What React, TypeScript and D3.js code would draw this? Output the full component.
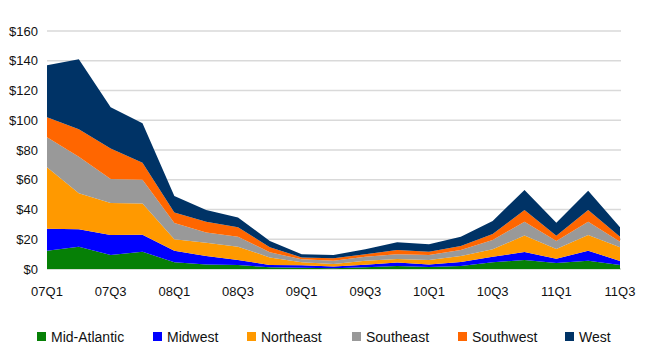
import React from "react";
import * as d3 from "d3";

const quarters = [
  "07Q1", "07Q2", "07Q3", "07Q4", "08Q1", "08Q2", "08Q3", "08Q4", "09Q1", "09Q2",
  "09Q3", "09Q4", "10Q1", "10Q2", "10Q3", "10Q4", "11Q1", "11Q2", "11Q3",
];
const tickLabels = ["07Q1", "07Q3", "08Q1", "08Q3", "09Q1", "09Q3", "10Q1", "10Q3", "11Q1", "11Q3"];
const yTicks = [0, 20, 40, 60, 80, 100, 120, 140, 160];

const seriesNames = ["Mid-Atlantic", "Midwest", "Northeast", "Southeast", "Southwest", "West"];
const seriesColors = ["#068006", "#0000ff", "#ff9900", "#999999", "#ff6600", "#003366"];

const midAtlantic = [12.3, 15, 9.4, 11.6, 4.5, 3.1, 2.7, 1.1, 0.9, 0.5, 1.1, 2, 1.3, 2, 4.5, 6, 4, 5.6, 2.7];
const midwest = [14.7, 11.7, 13.5, 11.4, 7.8, 5.6, 3.3, 1.6, 1.6, 1.1, 1.8, 2.3, 1.8, 2.7, 3.8, 5.4, 2.9, 6.7, 2.7];
const northeast = [41.4, 24.3, 21.5, 21, 7.7, 9, 9, 5.1, 2, 1.8, 2.7, 2.4, 2.9, 4, 4.9, 11.2, 6.5, 10.6, 9.2];
const southeast = [20.1, 24.5, 16.1, 16, 11, 6.9, 6.7, 3.4, 2, 2.2, 2.7, 3.3, 3.4, 4.1, 6.3, 9.2, 5.4, 8.9, 3.8];
const southwest = [13.5, 18.5, 20.5, 11.5, 6.9, 7.2, 6.3, 3.4, 1.3, 1.6, 1.6, 2.8, 2.2, 2.7, 4, 7.9, 3.6, 7.9, 3.3];
const west = [35, 47, 27.7, 26.5, 11.1, 7.9, 6.7, 4.2, 2.2, 2.2, 3.3, 5.1, 5, 6.2, 8.8, 13.4, 8.7, 12.9, 6.3];

const seriesValues = [midAtlantic, midwest, northeast, southeast, southwest, west];
const legendX = [37, 153, 247, 352, 458, 565];

const W = 645;
const H = 360;
const FONT = "Arial, 'Liberation Sans', Helvetica, sans-serif";

export default function App() {
  const x = d3.scalePoint<string>().domain(quarters).range([47, 620]);
  const y = d3.scaleLinear().domain([0, 160]).range([269, 31]);

  const rows = quarters.map((q, i) => {
    const r: Record<string, any> = { q };
    seriesNames.forEach((s, k) => (r[s] = seriesValues[k][i]));
    return r;
  });
  const stacked = d3.stack<any>().keys(seriesNames)(rows);
  const area = d3
    .area<any>()
    .x((d) => x(d.data.q) as number)
    .y0((d) => y(d[0]))
    .y1((d) => y(d[1]));

  return (
    <svg
      width={W}
      height={H}
      style={{ position: "absolute", left: 0, top: 0, background: "#fff" }}
      fontFamily={FONT}
    >
      {yTicks.map((t) => (
        <g key={t}>
          <line
            x1={47}
            x2={621}
            y1={y(t)}
            y2={y(t)}
            stroke={t === 0 ? "#c8d4c8" : "#d9d9d9"}
            strokeWidth={1.5}
          />
          <text x={38} y={y(t)} dy="0.35em" textAnchor="end" fontSize={13} fill="#111">
            ${t}
          </text>
        </g>
      ))}
      {stacked.map((s, k) => (
        <path key={s.key} d={area(s) || ""} fill={seriesColors[k]} />
      ))}
      {tickLabels.map((t) => (
        <text key={t} x={x(t)} y={296} textAnchor="middle" fontSize={13} fill="#111">
          {t}
        </text>
      ))}
      {seriesNames.map((s, k) => (
        <g key={s}>
          <rect x={legendX[k]} y={332} width={9} height={9} fill={seriesColors[k]} />
          <text x={legendX[k] + 14} y={341.5} fontSize={14} fill="#111">
            {s}
          </text>
        </g>
      ))}
    </svg>
  );
}
